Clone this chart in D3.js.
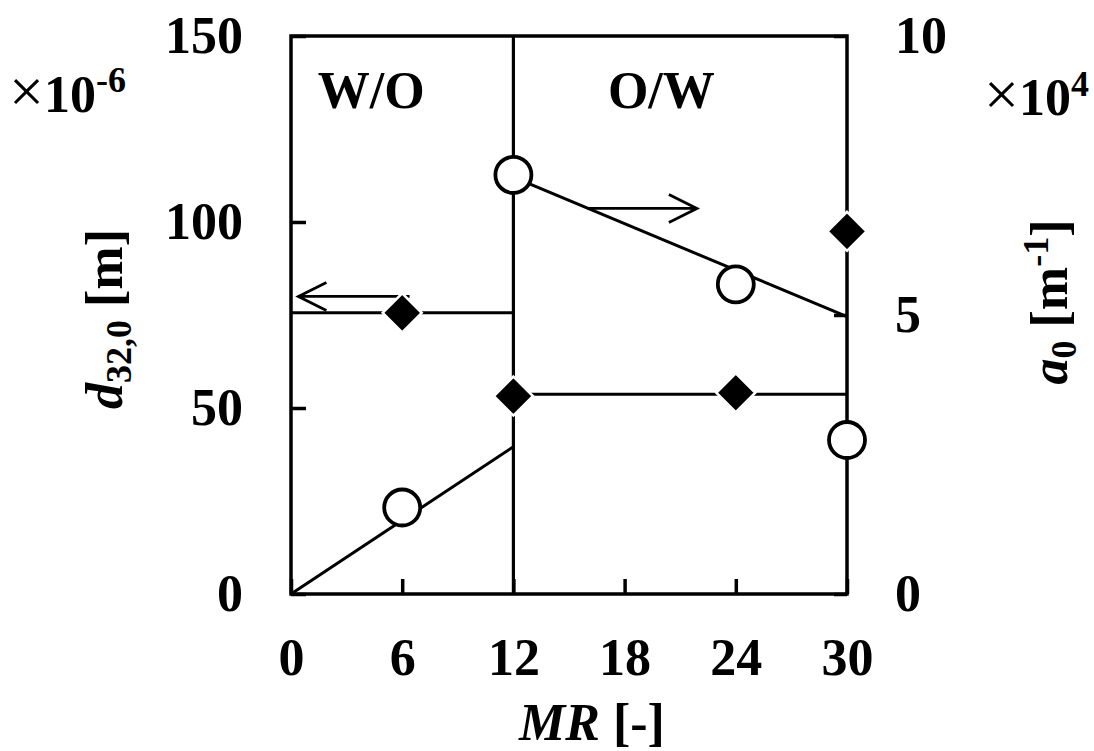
<!DOCTYPE html>
<html>
<head>
<meta charset="utf-8">
<script src="https://cdn.jsdelivr.net/npm/d3@7"></script>
<style>
  html, body { margin: 0; padding: 0; background: #fff; }
  svg { display: block; }
  text { font-family: "Liberation Serif", "Times New Roman", serif; font-weight: bold; fill: #000; }
</style>
</head>
<body>
<svg width="1094" height="751"></svg>
<script>
// ---- data ----
const mrValues = [6, 12, 24, 30];
const d32Values = [75.6, 53.2, 54.1, 97.5];    // left axis, x10^-6 m
const a0Values = [1.55, 7.51, 5.55, 2.76];     // right axis, x10^4 m^-1

// fitted lines
const d32FitWO = [[0, 75.6], [12, 75.6]];
const d32FitOW = [[12, 53.7], [30, 53.7]];
const a0FitWO = [[0, 0], [12, 2.64]];
const a0FitOW = [[12, 7.47], [30, 4.97]];

// tick labels
const xTicks = [0, 6, 12, 18, 24, 30];
const leftTicks = [0, 50, 100, 150];
const rightTicks = [0, 5, 10];

// phase boundary and region labels
const boundaryMR = 12;
const regionLabels = [{ text: 'W/O', x: 1.45, y: 130.6 }, { text: 'O/W', x: 17.1, y: 130.6 }];

const svg = d3.select('svg');
const margin = { top: 36, right: 247, bottom: 157, left: 291 };
const width = 1094, height = 751;
const innerW = width - margin.left - margin.right;
const innerH = height - margin.top - margin.bottom;

const x = d3.scaleLinear().domain([0, 30]).range([0, innerW]);
const yL = d3.scaleLinear().domain([0, 150]).range([innerH, 0]);
const yR = d3.scaleLinear().domain([0, 10]).range([innerH, 0]);

const g = svg.append('g').attr('transform', `translate(${margin.left},${margin.top})`);

/* axes (ticks pointing inward) */
const fontSize = 52;
const xAxis = g.append('g')
  .attr('transform', `translate(0,${innerH})`)
  .call(d3.axisBottom(x).tickValues(xTicks).tickSize(-15).tickPadding(44).tickFormat(d3.format('d')));
const lAxis = g.append('g')
  .call(d3.axisLeft(yL).tickValues(leftTicks).tickSize(-15).tickPadding(48).tickFormat(d3.format('d')));
const rAxis = g.append('g')
  .attr('transform', `translate(${innerW},0)`)
  .call(d3.axisRight(yR).tickValues(rightTicks).tickSize(-13).tickPadding(48).tickFormat(d3.format('d')));

[xAxis, lAxis, rAxis].forEach(ax => {
  ax.select('.domain').remove();
  ax.selectAll('.tick line').attr('stroke', '#000').attr('stroke-width', 3.5);
  ax.selectAll('.tick text')
    .style('font-family', '"Liberation Serif", "Times New Roman", serif')
    .style('font-weight', 'bold')
    .style('font-size', fontSize + 'px')
    .attr('fill', '#000');
});

// frame
g.append('rect')
  .attr('width', innerW).attr('height', innerH)
  .attr('fill', 'none').attr('stroke', '#000').attr('stroke-width', 3.5);

// phase boundary
g.append('line')
  .attr('x1', x(boundaryMR)).attr('x2', x(boundaryMR))
  .attr('y1', 0).attr('y2', innerH)
  .attr('stroke', '#000').attr('stroke-width', 3.2);

/* fitted lines */
const lineL = d3.line().x(d => x(d[0])).y(d => yL(d[1]));
const lineR = d3.line().x(d => x(d[0])).y(d => yR(d[1]));
[d32FitWO, d32FitOW].forEach(seg => {
  g.append('path').attr('d', lineL(seg)).attr('fill', 'none').attr('stroke', '#000').attr('stroke-width', 3);
});
[a0FitWO, a0FitOW].forEach(seg => {
  g.append('path').attr('d', lineR(seg)).attr('fill', 'none').attr('stroke', '#000').attr('stroke-width', 3);
});

/* arrows pointing to the axis each series belongs to */
function arrow(xFrom, xTo, yPx) {
  const x0 = x(xFrom), x1 = x(xTo);
  const dir = Math.sign(x1 - x0);
  const p = d3.path();
  p.moveTo(x0, yPx); p.lineTo(x1, yPx);
  p.moveTo(x1 - dir * 28, yPx - 14); p.lineTo(x1, yPx); p.lineTo(x1 - dir * 28, yPx + 14);
  g.append('path').attr('d', p.toString())
    .attr('fill', 'none').attr('stroke', '#000').attr('stroke-width', 2.8);
}
arrow(6.4, 0.4, yL(80));
arrow(16.0, 21.9, yR(6.91));

/* markers */
const halfDiag = 19.5;
g.selectAll('.diamond')
  .data(mrValues.map((m, i) => [m, d32Values[i]]))
  .enter().append('path')
  .attr('class', 'diamond')
  .attr('transform', d => `translate(${x(d[0])},${yL(d[1])})`)
  .attr('d', `M0,${-halfDiag}L${halfDiag},0L0,${halfDiag}L${-halfDiag},0Z`)
  .attr('fill', '#000').attr('stroke', '#fff').attr('stroke-width', 2.5);

g.selectAll('.circle')
  .data(mrValues.map((m, i) => [m, a0Values[i]]))
  .enter().append('circle')
  .attr('class', 'circle')
  .attr('cx', d => x(d[0])).attr('cy', d => yR(d[1]))
  .attr('r', 18)
  .attr('fill', '#fff').attr('stroke', '#000').attr('stroke-width', 3.8);

/* region labels */
g.selectAll('.region')
  .data(regionLabels)
  .enter().append('text')
  .attr('x', d => x(d.x)).attr('y', d => yL(d.y))
  .style('font-size', fontSize + 'px')
  .text(d => d.text);

/* axis titles */
const leftTitle = svg.append('text')
  .attr('transform', 'translate(122,319) rotate(-90)')
  .attr('text-anchor', 'middle')
  .style('font-size', fontSize + 'px');
leftTitle.append('tspan').style('font-style', 'italic').text('d');
leftTitle.append('tspan').attr('dy', 9).style('font-size', '36px').text('32,0');
leftTitle.append('tspan').attr('dy', -9).text(' [m]');

const rightTitle = svg.append('text')
  .attr('transform', 'translate(1067,302) rotate(-90)')
  .attr('text-anchor', 'middle')
  .style('font-size', fontSize + 'px');
rightTitle.append('tspan').style('font-style', 'italic').text('a');
rightTitle.append('tspan').attr('dy', 9).style('font-size', '36px').text('0');
rightTitle.append('tspan').attr('dy', -9).text(' [m');
rightTitle.append('tspan').attr('dy', -19).style('font-size', '36px').text('-1');
rightTitle.append('tspan').attr('dy', 19).text(']');

const xTitle = svg.append('text')
  .attr('x', 592).attr('y', 740)
  .attr('text-anchor', 'middle')
  .style('font-size', fontSize + 'px');
xTitle.append('tspan').style('font-style', 'italic').text('MR');
xTitle.append('tspan').text(' [-]');

/* scale multipliers */
const multL = svg.append('text').attr('x', 9).attr('y', 112).style('font-size', fontSize + 'px');
multL.append('tspan').style('font-size', '62px').style('font-weight', 'normal').text('\u00d7');
multL.append('tspan').text('10');
multL.append('tspan').attr('dy', -20).style('font-size', '36px').text('-6');

const multR = svg.append('text').attr('x', 984).attr('y', 115).style('font-size', fontSize + 'px');
multR.append('tspan').style('font-size', '62px').style('font-weight', 'normal').text('\u00d7');
multR.append('tspan').text('10');
multR.append('tspan').attr('dy', -19).style('font-size', '36px').text('4');
</script>
</body>
</html>
